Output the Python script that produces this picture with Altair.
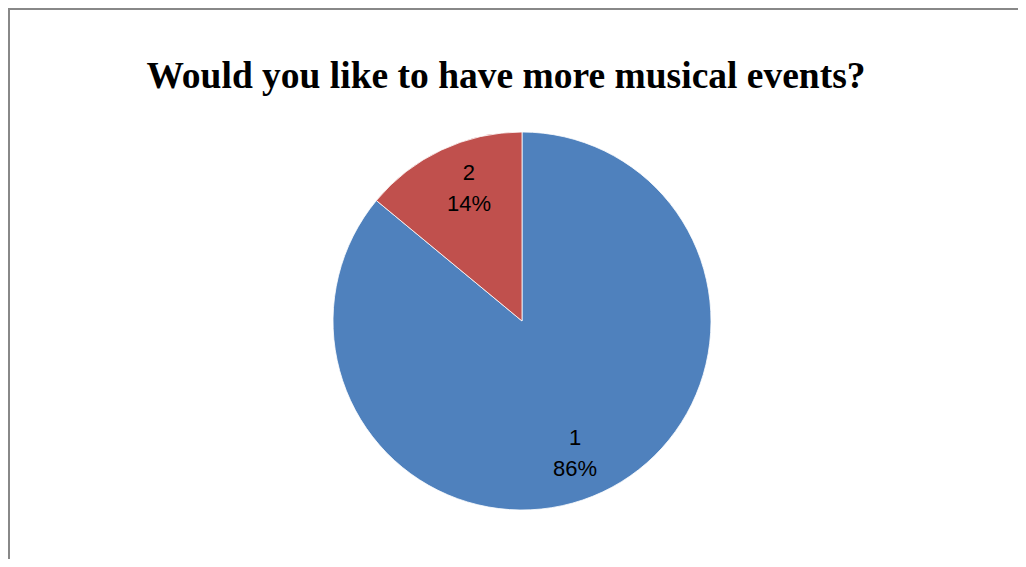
import altair as alt
import pandas as pd

categories = ["1", "2"]
percents = [86, 14]
colors = ["#4F81BD", "#C0504D"]
title_text = "Would you like to have more musical events?"

df = pd.DataFrame({"cat": categories, "pct": percents, "order": list(range(len(categories)))})
df["label"] = [f"{c}\n{p}%" for c, p in zip(categories, percents)]

CX, CY = 514, 313
W, H = 1010, 551

base = alt.Chart(df).encode(
    theta=alt.Theta("pct:Q", stack=True),
    order=alt.Order("order:Q"),
    color=alt.Color("cat:N", scale=alt.Scale(domain=categories, range=colors), legend=None),
)

pie = base.mark_arc(radius=189, stroke="white", strokeWidth=0.8).encode(
    x=alt.value(CX), y=alt.value(CY)
)

labels = base.mark_text(
    radius=143, thetaOffset=0.06, font="Liberation Sans", fontSize=22,
    lineBreak="\n", lineHeight=31, align="center", baseline="middle", dy=-15.5,
).encode(text="label:N", x=alt.value(CX), y=alt.value(CY), color=alt.value("black"))

title = alt.Chart(pd.DataFrame({"t": [title_text]})).mark_text(
    font="Liberation Serif", fontSize=37.5, fontWeight="bold", align="center",
    baseline="alphabetic", color="black",
).encode(text="t:N", x=alt.value(498), y=alt.value(80))

frame_left = alt.Chart(pd.DataFrame({"a": [0]})).mark_rule(
    color="#888888", strokeWidth=2
).encode(x=alt.value(1), y=alt.value(0), y2=alt.value(H))

frame_top = alt.Chart(pd.DataFrame({"a": [0]})).mark_rule(
    color="#888888", strokeWidth=2
).encode(x=alt.value(0), x2=alt.value(W), y=alt.value(1))

chart = alt.layer(frame_left, frame_top, pie, labels, title).properties(
    width=W, height=H, padding=0, autosize="none"
).configure_view(stroke=None)

chart.save("out.html", embed_options={"renderer": "svg", "actions": False})
